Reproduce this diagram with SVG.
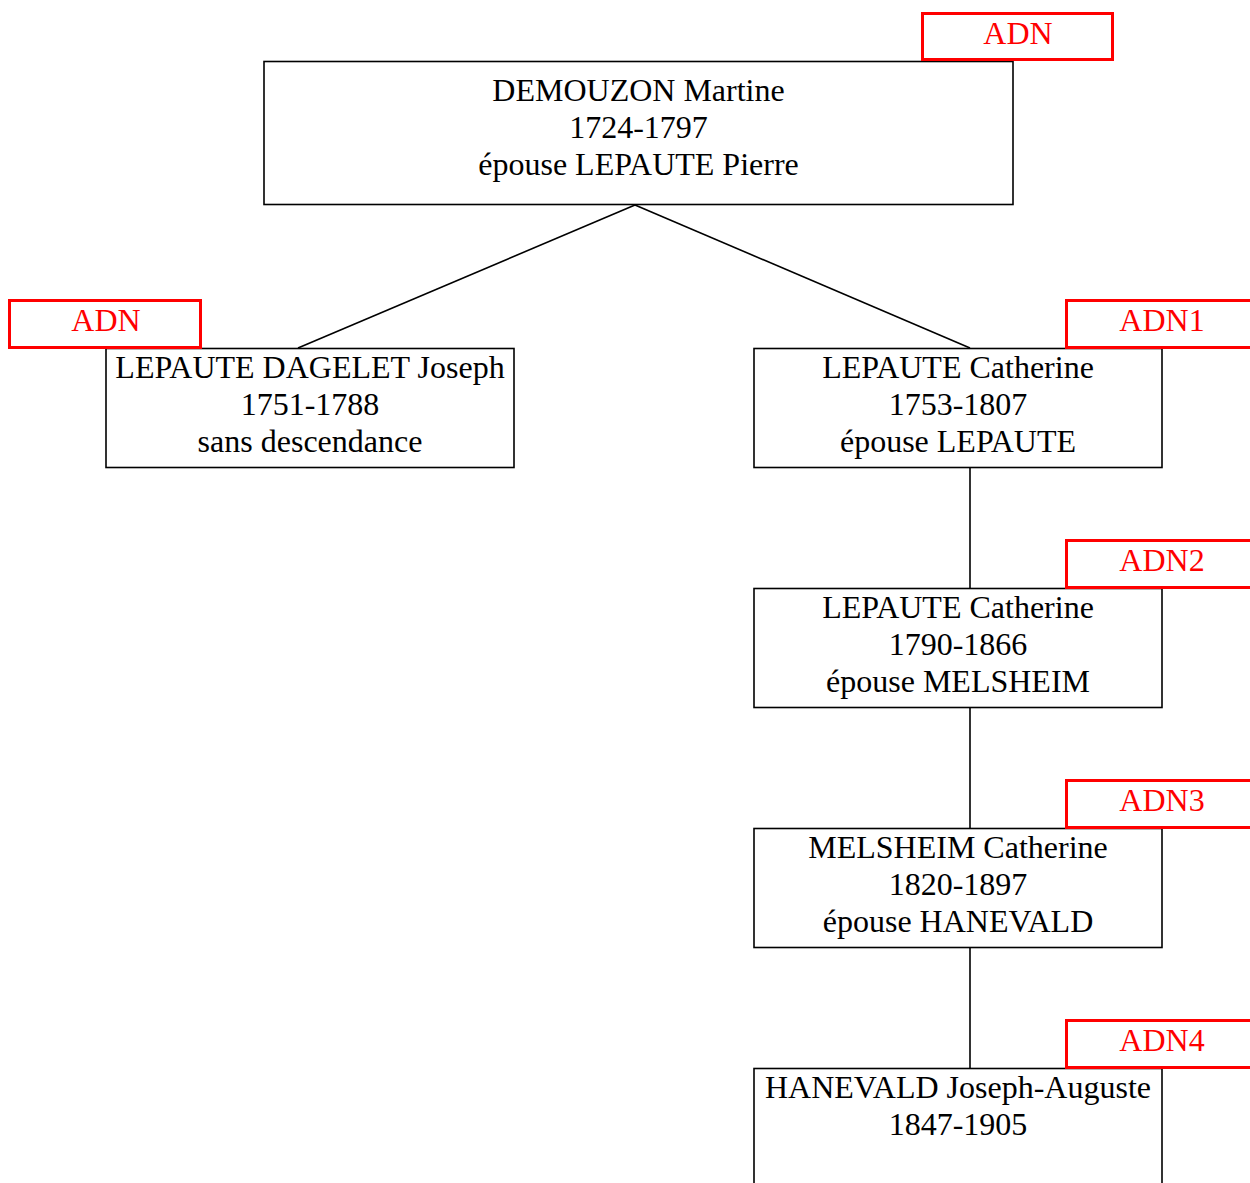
<svg xmlns="http://www.w3.org/2000/svg" width="1250" height="1183" viewBox="0 0 1250 1183">
<style>
.box{fill:#fff;stroke:#000;stroke-width:1.6}
.adn{fill:#fff;stroke:#ff0000;stroke-width:3}
.t{font-family:"Liberation Serif","Times New Roman",serif;font-size:32px;fill:#000;text-anchor:middle}
.r{font-family:"Liberation Serif","Times New Roman",serif;font-size:32px;fill:#ff0000;text-anchor:middle}
.c{stroke:#000;stroke-width:1.6;fill:none}
</style>
<rect width="1250" height="1183" fill="#fff"/>
<g id="connectors">
<line class="c" x1="635" y1="205" x2="298" y2="348"/>
<line class="c" x1="635" y1="205" x2="970" y2="348"/>
<line class="c" x1="970" y1="468" x2="970" y2="588"/>
<line class="c" x1="970" y1="708" x2="970" y2="828"/>
<line class="c" x1="970" y1="948" x2="970" y2="1068"/>
</g>
<g id="n0">
<rect class="box" x="264" y="61.5" width="749" height="143"/>
<text class="t" x="638.5" y="101">DEMOUZON Martine</text>
<text class="t" x="638.5" y="138">1724-1797</text>
<text class="t" x="638.5" y="175">épouse LEPAUTE Pierre</text>
</g>
<g id="n0-adn">
<rect class="adn" x="922.5" y="13.5" width="190" height="46"/>
<text class="r" x="1018" y="44">ADN</text>
</g>
<g id="n1">
<rect class="box" x="106" y="348.5" width="408" height="119"/>
<text class="t" x="310" y="378">LEPAUTE DAGELET Joseph</text>
<text class="t" x="310" y="415">1751-1788</text>
<text class="t" x="310" y="452">sans descendance</text>
</g>
<g id="n1-adn">
<rect class="adn" x="9.5" y="300.5" width="191" height="47"/>
<text class="r" x="106" y="331">ADN</text>
</g>
<g id="n2">
<rect class="box" x="754" y="348.5" width="408" height="119"/>
<text class="t" x="958" y="378">LEPAUTE Catherine</text>
<text class="t" x="958" y="415">1753-1807</text>
<text class="t" x="958" y="452">épouse LEPAUTE</text>
</g>
<g id="n2-adn">
<rect class="adn" x="1066.5" y="300.5" width="191" height="47"/>
<text class="r" x="1162" y="331">ADN1</text>
</g>
<g id="n3">
<rect class="box" x="754" y="588.5" width="408" height="119"/>
<text class="t" x="958" y="618">LEPAUTE Catherine</text>
<text class="t" x="958" y="655">1790-1866</text>
<text class="t" x="958" y="692">épouse MELSHEIM</text>
</g>
<g id="n3-adn">
<rect class="adn" x="1066.5" y="540.5" width="191" height="47"/>
<text class="r" x="1162" y="571">ADN2</text>
</g>
<g id="n4">
<rect class="box" x="754" y="828.5" width="408" height="119"/>
<text class="t" x="958" y="858">MELSHEIM Catherine</text>
<text class="t" x="958" y="895">1820-1897</text>
<text class="t" x="958" y="932">épouse HANEVALD</text>
</g>
<g id="n4-adn">
<rect class="adn" x="1066.5" y="780.5" width="191" height="47"/>
<text class="r" x="1162" y="811">ADN3</text>
</g>
<g id="n5">
<rect class="box" x="754" y="1068.5" width="408" height="130"/>
<text class="t" x="958" y="1098">HANEVALD Joseph-Auguste</text>
<text class="t" x="958" y="1135">1847-1905</text>
</g>
<g id="n5-adn">
<rect class="adn" x="1066.5" y="1020.5" width="191" height="47"/>
<text class="r" x="1162" y="1051">ADN4</text>
</g>
</svg>
